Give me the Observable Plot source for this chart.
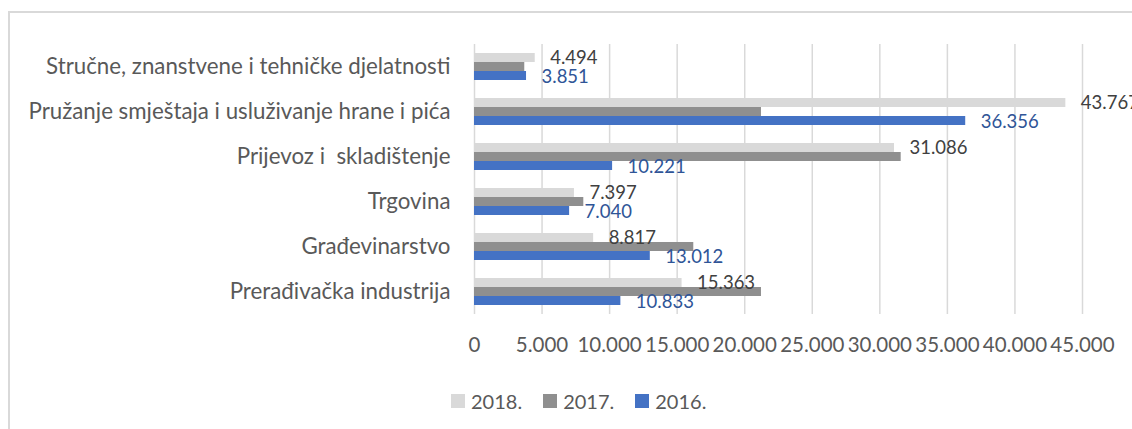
<!DOCTYPE html>
<html>
<head>
<meta charset="utf-8">
<script src="https://cdn.jsdelivr.net/npm/d3@7"></script>
<script src="https://cdn.jsdelivr.net/npm/@observablehq/plot@0.6"></script>
<style>
  html, body { margin: 0; padding: 0; background: #fff; }
  #wrap { position: relative; width: 1132px; height: 429px; overflow: hidden; font-family: Lato, sans-serif; }
  #frame { position: absolute; left: 8px; top: 11px; width: 1300px; height: 600px; border: 2px solid #d9d9d9; box-sizing: border-box; }
  #chart { position: absolute; left: 0; top: 0; }
  #chart svg text { white-space: pre; }
  #legend { position: absolute; left: 451px; top: 391px; display: flex; align-items: center; font-size: 20px; color: #595959; line-height: 20px; }
  .item { display: flex; align-items: center; margin-right: 21px; }
  .sw { width: 14px; height: 14px; margin-right: 6px; }
</style>
</head>
<body>
<div id="wrap">
  <div id="frame"></div>
  <div id="chart"></div>
  <div id="legend"></div>
</div>
<script>
const categories = [
  "Stručne, znanstvene i tehničke djelatnosti",
  "Pružanje smještaja i usluživanje hrane i pića",
  "Prijevoz i  skladištenje",
  "Trgovina",
  "Građevinarstvo",
  "Prerađivačka industrija"
];
const years = ["2018.", "2017.", "2016."];
const v2018 = [4494, 43767, 31086, 7397, 8817, 15363];
const v2017 = [3720, 21240, 31580, 8090, 16230, 21240];
const v2016 = [3851, 36356, 10221, 7040, 13012, 10833];
const barColors = ["#d9d9d9", "#8f8f8f", "#4472c4"];
const labelColor2018 = "#404040";
const labelColor2016 = "#2f5597";
const xTicks = [0, 5000, 10000, 15000, 20000, 25000, 30000, 35000, 40000, 45000];

const fmt = d3.formatLocale({decimal: ",", thousands: ".", grouping: [3], currency: ["", ""]}).format(",d");

const series = [v2018, v2017, v2016];
const table = [];
categories.forEach((c, i) => {
  years.forEach((y, j) => table.push({cat: c, year: y, value: series[j][i]}));
});
const lab2018 = table.filter(d => d.year === "2018.");
const lab2016 = table.filter(d => d.year === "2016.");

const chart = Plot.plot({
  width: 1132,
  height: 380,
  marginTop: 41,
  marginBottom: 64,
  marginLeft: 474,
  marginRight: 50,
  style: {fontFamily: "Lato, sans-serif", fontSize: "20px", color: "#595959", background: "transparent", overflow: "visible"},
  x: {domain: [0, 45000], axis: null},
  y: {domain: years, paddingInner: 0, paddingOuter: 0.96, axis: null},
  fy: {domain: categories, padding: 0, axis: null},
  color: {domain: years, range: barColors},
  marks: [
    Plot.gridX(xTicks, {stroke: "#d9d9d9", strokeOpacity: 1, strokeWidth: 1.5}),
    Plot.barX(table, {x: "value", y: "year", fy: "cat", fill: "year"}),
    Plot.text(lab2018, {x: "value", y: "year", fy: "cat", text: d => fmt(d.value), textAnchor: "start", dx: 15, dy: 0, fill: labelColor2018, fontSize: 18.5}),
    Plot.text(lab2016, {x: "value", y: "year", fy: "cat", text: d => fmt(d.value), textAnchor: "start", dx: 15, dy: 1, fill: labelColor2016, fontSize: 18.5}),
    Plot.axisX(xTicks, {tickSize: 0, tickPadding: 23, tickFormat: fmt, fontSize: 20.5, label: null}),
    Plot.axisFy({anchor: "left", tickSize: 0, tickPadding: 24, fontSize: 22.3, label: null})
  ]
});
document.getElementById("chart").appendChild(chart);

const legend = document.getElementById("legend");
years.forEach((y, j) => {
  const item = document.createElement("div");
  item.className = "item";
  const sw = document.createElement("div");
  sw.className = "sw";
  sw.style.background = barColors[j];
  const t = document.createElement("span");
  t.textContent = y;
  item.appendChild(sw);
  item.appendChild(t);
  legend.appendChild(item);
});
</script>
</body>
</html>
